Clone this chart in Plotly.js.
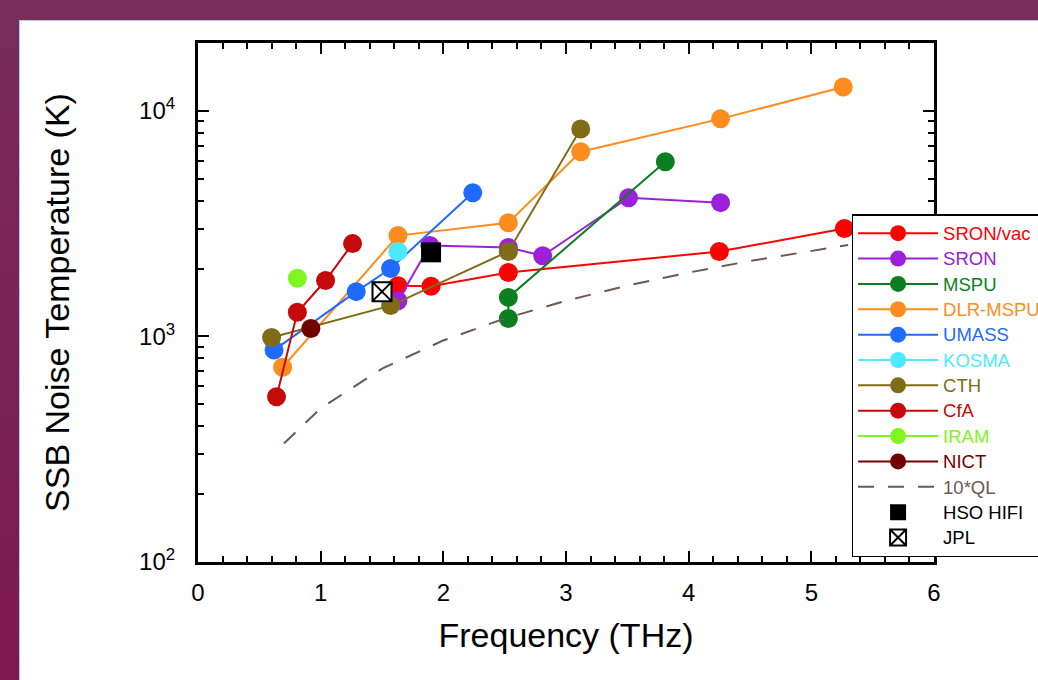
<!DOCTYPE html>
<html>
<head>
<meta charset="utf-8">
<script src="https://cdn.plot.ly/plotly-3.0.1.min.js"></script>
<style>
  html, body { margin: 0; padding: 0; width: 1038px; height: 680px; overflow: hidden;
    background: linear-gradient(to bottom, #772d5b, #7d1850); }
  #panel { position: absolute; left: 19px; top: 20px; width: 1019px; height: 660px;
    background: #ffffff; border-left: 1px solid #b4c3ea; border-top: 1px solid #b4c3ea; box-sizing: border-box; }
  #chart { position: absolute; left: 0; top: 0; width: 1038px; height: 680px; }
</style>
</head>
<body>
<div id="panel"></div>
<div id="chart"></div>
<script>
// Frequency (THz) and SSB noise temperature (K) per group
const sronVacX = [1.63, 1.90, 2.53, 4.25, 5.27];
const sronVacY = [1680, 1670, 1920, 2380, 3010];
const sronX = [1.63, 1.89, 2.53, 2.81, 3.51, 4.26];
const sronY = [1440, 2530, 2480, 2280, 4120, 3920];
const mspuX = [2.53, 2.53, 3.81];
const mspuY = [1200, 1490, 5950];
const dlrX = [0.69, 1.63, 2.53, 3.12, 4.26, 5.26];
const dlrY = [730, 2800, 3190, 6590, 9220, 12760];
const umassX = [0.62, 1.29, 1.57, 2.24];
const umassY = [870, 1580, 2000, 4340];
const kosmaX = [1.63];
const kosmaY = [2380];
const cthX = [0.60, 1.57, 2.53, 3.12];
const cthY = [990, 1370, 2380, 8320];
const cfaX = [0.64, 0.81, 1.04, 1.26];
const cfaY = [540, 1280, 1770, 2580];
const iramX = [0.81];
const iramY = [1810];
const nictX = [0.92];
const nictY = [1085];
const qlX = [0.7, 1.0, 1.5, 2.0, 2.5, 3.0, 3.5, 4.0, 4.5, 5.0, 5.3];
const qlY = [335, 480, 720, 960, 1200, 1440, 1680, 1920, 2160, 2400, 2545];
const hifiX = [1.90];
const hifiY = [2360];
const jplX = [1.50];
const jplY = [1580];

const xTickVals = [0, 1, 2, 3, 4, 5, 6];

function label(name, color) {
  return '<span style="color:' + color + ';font-size:18.5px">' + name + '</span>';
}

function series(name, x, y, color) {
  return {
    type: 'scatter', mode: 'lines+markers', x: x, y: y,
    name: label(name, color),
    line: { color: color, width: 2 },
    marker: { color: color, size: 19, line: { width: 0 } }
  };
}

const data = [
  series('SRON/vac', sronVacX, sronVacY, '#ff0000'),
  series('SRON', sronX, sronY, '#9b20d9'),
  series('MSPU', mspuX, mspuY, '#0b7f1f'),
  series('DLR-MSPU', dlrX, dlrY, '#ff8c1f'),
  series('UMASS', umassX, umassY, '#1f6bff'),
  series('KOSMA', kosmaX, kosmaY, '#4ee8ff'),
  series('CTH', cthX, cthY, '#806c17'),
  series('CfA', cfaX, cfaY, '#c40a0a'),
  series('IRAM', iramX, iramY, '#80f522'),
  series('NICT', nictX, nictY, '#720000'),
  {
    type: 'scatter', mode: 'lines', x: qlX, y: qlY,
    name: label('10*QL', '#6e5750'),
    line: { color: '#6e5750', width: 2, dash: '16px,14px' }
  },
  {
    type: 'scatter', mode: 'markers', x: hifiX, y: hifiY, name: label('HSO HIFI', '#000000'),
    marker: { symbol: 'square', color: '#000000', size: 20, line: { width: 0 } }
  },
  {
    type: 'scatter', mode: 'markers', x: jplX, y: jplY, name: label('JPL', '#000000'),
    marker: { symbol: 'square-x', color: '#ffffff', size: 19, line: { color: '#000000', width: 2 } }
  }
];

const layout = {
  width: 1038, height: 680,
  paper_bgcolor: 'rgba(0,0,0,0)',
  plot_bgcolor: 'rgba(0,0,0,0)',
  margin: { l: 198, r: 104, t: 43, b: 118, autoexpand: false },
  font: { family: '"Liberation Sans", Arial, sans-serif', color: '#000000' },
  showlegend: true,
  xaxis: {
    range: [0, 6], tickvals: xTickVals, ticktext: xTickVals.map(String),
    showgrid: false, zeroline: false,
    showline: true, linecolor: '#000000', linewidth: 3, mirror: 'allticks',
    ticks: 'inside', ticklen: 11, tickwidth: 2, tickcolor: '#000000',
    minor: { dtick: 0.2, ticks: 'inside', ticklen: 6, tickwidth: 2, tickcolor: '#000000', showgrid: false },
    tickfont: { size: 24 }, ticklabelstandoff: 7,
    title: { text: 'Frequency (THz)', font: { size: 34 }, standoff: 19 }
  },
  yaxis: {
    type: 'log', range: [2, Math.log10(20000)], dtick: 1, exponentformat: 'power',
    showgrid: false, zeroline: false,
    showline: true, linecolor: '#000000', linewidth: 3, mirror: 'allticks',
    ticks: 'inside', ticklen: 11, tickwidth: 2, tickcolor: '#000000',
    minor: { dtick: 'D1', ticks: 'inside', ticklen: 6, tickwidth: 2, tickcolor: '#000000', showgrid: false },
    tickfont: { size: 19.2 }, ticklabelstandoff: 16,
    title: { text: 'SSB Noise Temperature (K)', font: { size: 34 }, standoff: 60 }
  },
  legend: {
    x: 0.888, y: 0.6705, xanchor: 'left', yanchor: 'top',
    bgcolor: '#ffffff', bordercolor: '#000000', borderwidth: 1.5,
    font: { size: 17.2, color: '#000000' },
    itemwidth: 80, tracegroupgap: 0
  }
};

Plotly.newPlot('chart', data, layout, { displayModeBar: false, staticPlot: true });
</script>
</body>
</html>
